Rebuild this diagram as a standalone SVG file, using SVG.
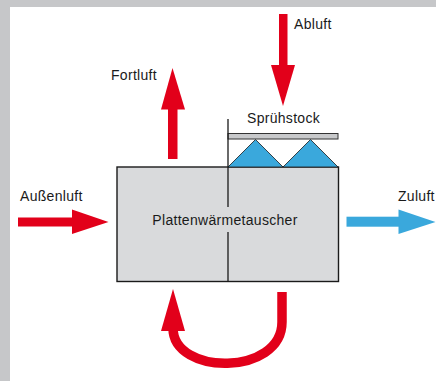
<svg xmlns="http://www.w3.org/2000/svg" width="436" height="381" viewBox="0 0 436 381">
<style>
text{font-family:"Liberation Sans",Arial,sans-serif;font-size:14px;fill:#1a1a1a;letter-spacing:0.3px}
.red{fill:#e2001a}
.blue{fill:#3aa8dc}
.ln{stroke:#1a1a1a;stroke-width:1.3;fill:none}
</style>
<rect x="0" y="0" width="436" height="381" fill="#c6c7c9"/>
<rect x="10" y="7" width="426" height="374" fill="#ffffff"/>
<g id="exchanger">
<rect x="117" y="167" width="221.5" height="114.5" fill="#d9dadc" stroke="#1a1a1a" stroke-width="1.4"/>
<text x="225" y="225" text-anchor="middle">Plattenwärmetauscher</text>
</g>
<g id="spray">
<rect x="228" y="133.5" width="110" height="5.5" fill="#c8c9cb" stroke="#333" stroke-width="1"/>
<polygon points="228,167 255.5,139.5 283,167" class="blue" stroke="#1a1a1a" stroke-width="0.8"/>
<polygon points="283,167 310.5,139.5 338,167" class="blue" stroke="#1a1a1a" stroke-width="0.8"/>
<text x="247" y="123">Sprühstock</text>
</g>
<g id="divider">
<line x1="228" y1="119" x2="228" y2="207" class="ln"/>
<line x1="228" y1="232" x2="228" y2="282" class="ln"/>
</g>
<g id="labels">
<text x="294" y="29">Abluft</text>
<text x="111" y="80">Fortluft</text>
<text x="20" y="200.5">Außenluft</text>
<text x="398" y="200.5">Zuluft</text>
</g>
<g id="connectors">
<g id="abluft-arrow">
<rect x="279" y="14" width="8.5" height="52" class="red"/>
<polygon points="271,65 295,65 283,106" class="red"/>
</g>
<g id="fortluft-arrow">
<rect x="168" y="108" width="9.5" height="51" class="red"/>
<polygon points="172.5,68 161,109.5 185,109.5" class="red"/>
</g>
<g id="aussenluft-arrow">
<rect x="18" y="217.5" width="55" height="9" class="red"/>
<polygon points="72,209.5 108.5,222 72,234" class="red"/>
</g>
<g id="zuluft-arrow">
<rect x="346.5" y="216.7" width="53" height="10" class="blue"/>
<polygon points="398.5,209.5 435.5,222 398.5,234" class="blue"/>
</g>
<g id="loop-arrow">
<path d="M282,292 V322 C282,376 173,376 173,328" fill="none" stroke="#e2001a" stroke-width="9.5"/>
<polygon points="173,289 161,331 185,331" class="red"/>
</g>
</g>
</svg>
